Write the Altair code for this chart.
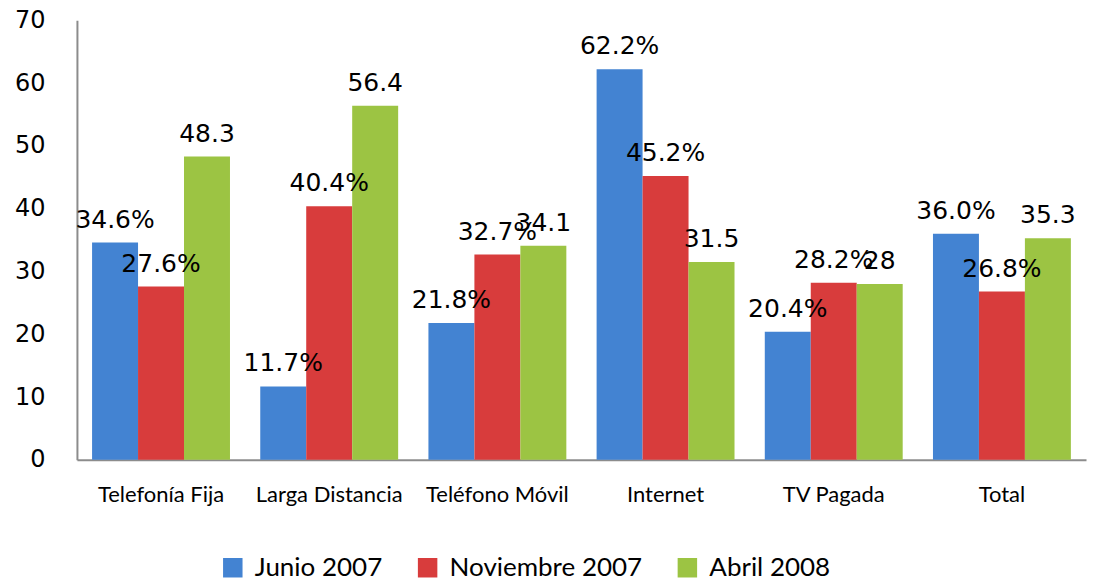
import altair as alt
import pandas as pd

categories = ["Telefonía Fija", "Larga Distancia", "Teléfono Móvil", "Internet", "TV Pagada", "Total"]
series = ["Junio 2007", "Noviembre 2007", "Abril 2008"]
junio_2007 = [34.6, 11.7, 21.8, 62.2, 20.4, 36.0]
noviembre_2007 = [27.6, 40.4, 32.7, 45.2, 28.2, 26.8]
abril_2008 = [48.3, 56.4, 34.1, 31.5, 28, 35.3]
junio_labels = ["34.6%", "11.7%", "21.8%", "62.2%", "20.4%", "36.0%"]
noviembre_labels = ["27.6%", "40.4%", "32.7%", "45.2%", "28.2%", "26.8%"]
abril_labels = ["48.3", "56.4", "34.1", "31.5", "28", "35.3"]
colors = ["#4383D2", "#D83C3C", "#9CC443"]

rows = []
for s, vals, labs in zip(series, [junio_2007, noviembre_2007, abril_2008],
                         [junio_labels, noviembre_labels, abril_labels]):
    for c, v, l in zip(categories, vals, labs):
        rows.append({"Categoria": c, "Serie": s, "Valor": v, "Etiqueta": l})
df = pd.DataFrame(rows)

x_enc = alt.X("Categoria:N", sort=categories, title=None,
              scale=alt.Scale(paddingInner=0.18, paddingOuter=0.09),
              axis=alt.Axis(labelAngle=0, labelFont="Lato", labelFontSize=22,
                            labelColor="black", labelPadding=25, ticks=False,
                            labelLimit=0,
                            domainColor="#8c8c8c", domainWidth=2))
y_enc = alt.Y("Valor:Q", title=None,
              scale=alt.Scale(domain=[0, 70]),
              axis=alt.Axis(values=[0, 10, 20, 30, 40, 50, 60, 70], grid=False,
                            ticks=False, labelFont="DejaVu Sans", labelFontSize=24,
                            labelColor="black", labelPadding=32,
                            domainColor="#8c8c8c", domainWidth=2))
xoff = alt.XOffset("Serie:N", sort=series)

bars = alt.Chart(df).mark_bar().encode(
    x=x_enc, y=y_enc, xOffset=xoff,
    color=alt.Color("Serie:N", sort=series,
                    scale=alt.Scale(domain=series, range=colors),
                    legend=alt.Legend(title=None, orient="none", direction="horizontal",
                                      legendX=143, legendY=535,
                                      symbolType="square", symbolSize=380,
                                      labelFont="Lato", labelFontSize=26,
                                      labelColor="black", columnPadding=32,
                                      labelLimit=0, labelOffset=9))
)

labels = alt.Chart(df).mark_text(font="DejaVu Sans", fontSize=25, color="black",
                                 baseline="alphabetic", dy=-15).encode(
    x=alt.X("Categoria:N", sort=categories), y="Valor:Q", xOffset=xoff,
    text="Etiqueta:N"
)

chart = alt.layer(bars, labels).properties(
    width=1010, height=440,
    background="white",
    autosize=alt.AutoSizeParams(type="none"),
    padding={"left": 69, "top": 12, "right": 10, "bottom": 126}
).configure_view(stroke=None)

chart.save("out.html", embed_options={"renderer": "svg", "actions": False})
